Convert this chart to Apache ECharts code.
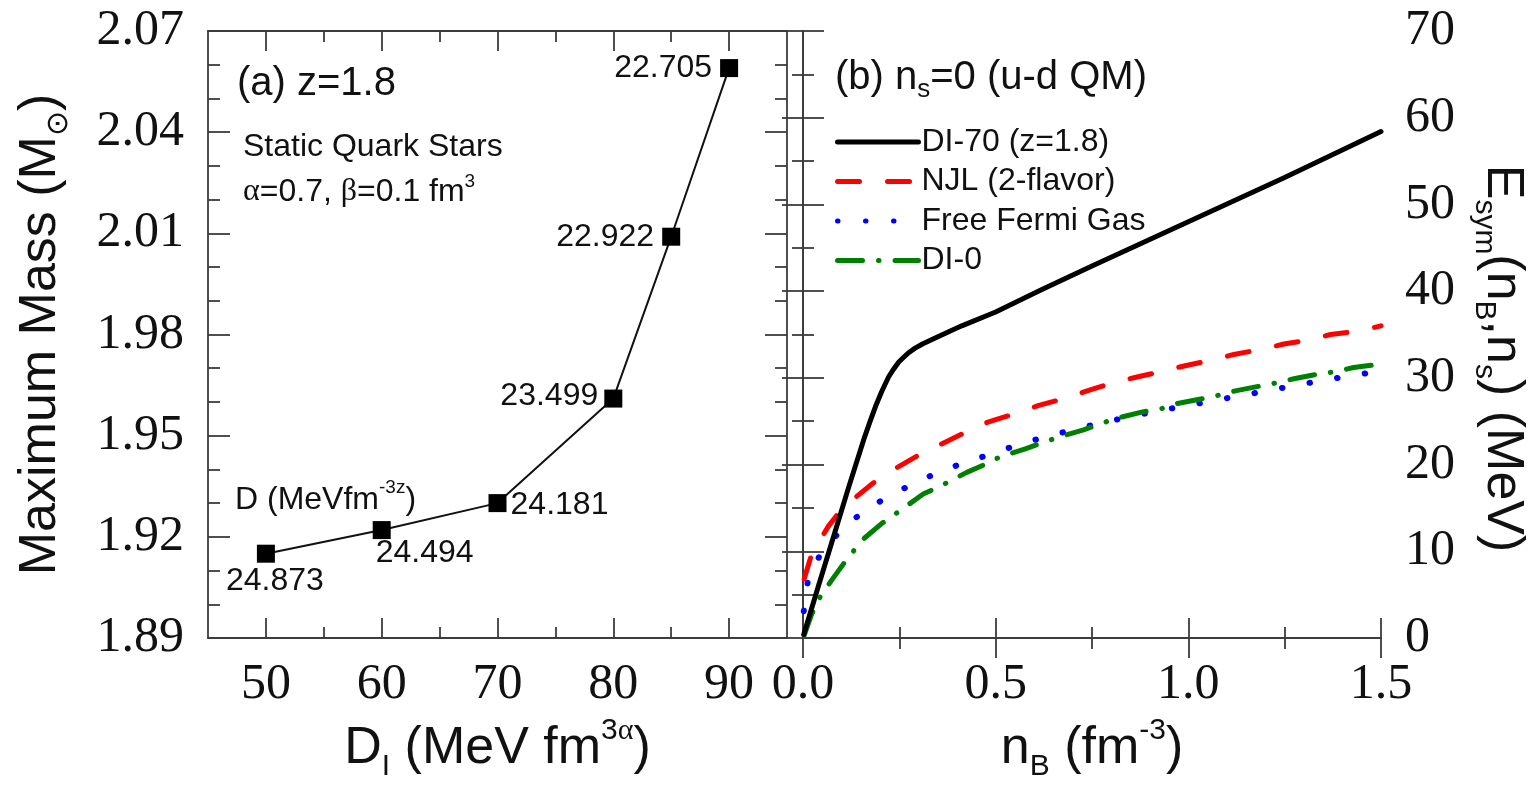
<!DOCTYPE html>
<html>
<head>
<meta charset="utf-8">
<script src="https://cdn.jsdelivr.net/npm/echarts@6/dist/echarts.min.js"></script>
<style>
  html, body { margin: 0; padding: 0; background: #ffffff; }
  #main { width: 1536px; height: 787px; }
</style>
</head>
<body>
<div id="main"></div>
<script>
// ---- Panel (a): maximum mass of static quark stars vs D_I ----
const dI = [50, 60, 70, 80, 85, 90];
const maxMass = [1.915, 1.922, 1.930, 1.961, 2.009, 2.059];
const dValues = ['24.873', '24.494', '24.181', '23.499', '22.922', '22.705'];
const dIMajorTicks = [50, 60, 70, 80, 90];
const dIMinorTicks = [55, 65, 75, 85];

// ---- Panel (b): symmetry energy vs baryon density, [n_B, E_sym] ----
const di70 = [[0.002, 0.4], [0.04, 6.0], [0.08, 11.8], [0.12, 17.6], [0.16, 23.2], [0.175, 25.1],
  [0.19, 26.9], [0.204, 28.4], [0.222, 30.1], [0.235, 31.0], [0.248, 31.8], [0.262, 32.4],
  [0.274, 32.9], [0.29, 33.4], [0.31, 33.9], [0.343, 34.6], [0.412, 36.0], [0.5, 37.6],
  [0.62, 40.2], [0.75, 42.9], [1.0, 48.0], [1.25, 53.1], [1.5, 58.4]];
const njl = [[0.003, 6.8], [0.022, 9.6], [0.066, 12.9], [0.105, 15.1], [0.183, 17.9], [0.23, 19.3],
  [0.308, 21.3], [0.356, 22.3], [0.43, 23.9], [0.48, 24.9], [0.56, 26.0], [0.61, 26.8], [0.685, 27.7],
  [0.737, 28.5], [0.81, 29.5], [0.867, 30.1], [0.936, 30.8], [0.992, 31.4], [1.066, 32.1],
  [1.118, 32.7], [1.191, 33.3], [1.248, 33.9], [1.317, 34.4], [1.369, 35.0], [1.443, 35.4], [1.5, 36.0]];
const freeFermi = [[0.002, 3.1], [0.012, 6.4], [0.044, 9.6], [0.107, 12.9], [0.181, 15.3], [0.255, 17.1],
  [0.325, 18.6], [0.399, 19.9], [0.473, 21.0], [0.546, 22.1], [0.62, 23.1], [0.763, 24.7], [0.91, 26.1],
  [1.057, 27.3], [1.204, 28.5], [1.347, 29.7], [1.5, 30.8]];
const di0 = [[0.003, 0.3], [0.022, 2.7], [0.044, 4.7], [0.075, 6.7], [0.119, 9.4], [0.159, 11.5],
  [0.204, 13.2], [0.265, 15.1], [0.312, 16.6], [0.36, 17.6], [0.425, 19.1], [0.466, 19.9], [0.512, 20.9],
  [0.577, 21.8], [0.62, 22.5], [0.659, 23.1], [0.728, 24.0], [0.81, 25.3], [0.884, 26.1], [0.927, 26.4],
  [0.966, 27.0], [1.036, 27.6], [1.079, 28.0], [1.122, 28.5], [1.191, 29.1], [1.226, 29.4], [1.274, 29.9],
  [1.343, 30.5], [1.382, 30.7], [1.429, 31.2], [1.5, 31.6]];
const seriesNames = ['DI-70 (z=1.8)', 'NJL (2-flavor)', 'Free Fermi Gas', 'DI-0'];

// ---- shared styles ----
const SANS = '"Liberation Sans", Arial, sans-serif';
const SERIF = '"Liberation Serif", "Times New Roman", serif';
const INK = '#111111';
const FRAME = '#3c3c3c';

// label placement relative to each square marker
const labelOffsets = [[9, 27], [43, 23], [62, 2], [-64, -2], [-66, 0], [-66, 0]];

const chart = echarts.init(document.getElementById('main'), null, { renderer: 'canvas' });

const frameLine = { show: true, lineStyle: { color: FRAME, width: 1.8 } };
const majorTick = (len) => ({ show: true, inside: true, length: len, lineStyle: { color: FRAME, width: 1.8 } });
const minorTick = (n, len) => ({ show: true, splitNumber: n, length: len, lineStyle: { color: FRAME, width: 1.8 } });
const tickFont = { fontFamily: SERIF, fontSize: 50, color: INK };

const subRich = (size) => ({ fontFamily: SANS, fontSize: size, lineHeight: size, verticalAlign: 'bottom', color: INK });
const supRich = (size) => ({ fontFamily: SANS, fontSize: size, lineHeight: size, verticalAlign: 'top', color: INK });

const nameRich = {
  m: { fontFamily: SANS, fontSize: 52, lineHeight: 66, color: INK },
  sub: subRich(30),
  sup: supRich(30),
  subSym: { fontFamily: SERIF, fontSize: 30, lineHeight: 30, verticalAlign: 'bottom', color: INK },
  supGreek: { fontFamily: SERIF, fontSize: 30, lineHeight: 30, verticalAlign: 'top', color: INK }
};
const nameStyle = { fontFamily: SANS, fontSize: 52, lineHeight: 66, color: INK, rich: nameRich };

const plainLine = (data, name, color, extra) => Object.assign({
  name: name, type: 'line', xAxisIndex: 4, yAxisIndex: 2,
  data: data, showSymbol: false, symbol: 'none', smooth: false,
  itemStyle: { color: color }
}, extra);

const option = {
  animation: false,
  backgroundColor: '#ffffff',
  grid: [
    { left: 208, top: 31, width: 579, height: 609, show: false },
    { left: 803, top: 31, width: 578, height: 609, show: false }
  ],
  xAxis: [
    // panel (a) bottom: major ticks + labels + name
    {
      type: 'value', gridIndex: 0, position: 'bottom', min: 45, max: 95,
      axisLine: frameLine, axisTick: Object.assign(majorTick(20), { customValues: dIMajorTicks }),
      axisLabel: Object.assign({ margin: 22, customValues: dIMajorTicks }, tickFont),
      splitLine: { show: false },
      name: '{m|D}{sub|I}{m| (MeV fm}{sup|3}{supGreek|α}{m|)}', nameLocation: 'middle', nameGap: 78,
      nameTextStyle: nameStyle
    },
    // panel (a) bottom: minor ticks
    {
      type: 'value', gridIndex: 0, position: 'bottom', min: 45, max: 95,
      axisLine: { show: false }, axisTick: Object.assign(majorTick(11), { customValues: dIMinorTicks }),
      axisLabel: { show: false }, splitLine: { show: false }
    },
    // panel (a) top frame
    {
      type: 'value', gridIndex: 0, position: 'top', min: 45, max: 95,
      axisLine: frameLine, axisTick: Object.assign(majorTick(20), { customValues: dIMajorTicks }),
      axisLabel: { show: false }, splitLine: { show: false }
    },
    {
      type: 'value', gridIndex: 0, position: 'top', min: 45, max: 95,
      axisLine: { show: false }, axisTick: Object.assign(majorTick(11), { customValues: dIMinorTicks }),
      axisLabel: { show: false }, splitLine: { show: false }
    },
    // panel (b) bottom
    {
      type: 'value', gridIndex: 1, position: 'bottom', min: 0, max: 1.5, interval: 0.5,
      axisLine: frameLine, axisTick: majorTick(20), minorTick: minorTick(2, 11),
      axisLabel: Object.assign({ margin: 22, formatter: (v) => v.toFixed(1), showMinLabel: true, showMaxLabel: true }, tickFont),
      splitLine: { show: false }, minorSplitLine: { show: false },
      name: '{m|n}{sub|B}{m| (fm}{sup|-3}{m|)}', nameLocation: 'middle', nameGap: 78,
      nameTextStyle: nameStyle
    },
    // panel (b) top frame
    {
      type: 'value', gridIndex: 1, position: 'top', min: 0, max: 1.5, interval: 0.5,
      axisLine: frameLine, axisTick: majorTick(20), minorTick: minorTick(2, 11),
      axisLabel: { show: false }, splitLine: { show: false }, minorSplitLine: { show: false }
    }
  ],
  yAxis: [
    // panel (a) left
    {
      type: 'value', gridIndex: 0, position: 'left', min: 1.89, max: 2.07, interval: 0.03,
      axisLine: frameLine, axisTick: majorTick(22), minorTick: minorTick(3, 12),
      axisLabel: Object.assign({ margin: 24, formatter: (v) => v.toFixed(2) }, tickFont),
      splitLine: { show: false }, minorSplitLine: { show: false },
      name: '{m|Maximum Mass (M}{subSym|⊙}{m|)}', nameLocation: 'middle', nameGap: 134,
      nameTextStyle: nameStyle
    },
    // panel (a) right frame
    {
      type: 'value', gridIndex: 0, position: 'right', min: 1.89, max: 2.07, interval: 0.03,
      axisLine: frameLine, axisTick: majorTick(22), minorTick: minorTick(3, 12),
      axisLabel: { show: false }, splitLine: { show: false }, minorSplitLine: { show: false }
    },
    // panel (b) right: labels + name
    {
      type: 'value', gridIndex: 1, position: 'right', min: 0, max: 70, interval: 10,
      axisLine: frameLine, axisTick: majorTick(21), minorTick: minorTick(2, 11),
      axisLabel: Object.assign({ margin: 24 }, tickFont),
      splitLine: { show: false }, minorSplitLine: { show: false },
      name: '{m|E}{sub|sym}{m|(n}{sub|B}{m|,n}{sub|s}{m|) (MeV)}', nameLocation: 'middle', nameGap: 88,
      nameRotate: -90,
      nameTextStyle: Object.assign({ padding: [0, 0, 0, 48] }, nameStyle)
    },
    // panel (b) left frame
    {
      type: 'value', gridIndex: 1, position: 'left', min: 0, max: 70, interval: 10,
      axisLine: frameLine, axisTick: majorTick(21), minorTick: minorTick(2, 11),
      axisLabel: { show: false }, splitLine: { show: false }, minorSplitLine: { show: false }
    }
  ],
  legend: {
    left: 835, top: 126, orient: 'vertical', padding: 0,
    itemWidth: 81, itemHeight: 14, itemGap: 7.5,
    data: seriesNames,
    itemStyle: { opacity: 0 },
    lineStyle: { width: 5, cap: 'round' },
    textStyle: { fontFamily: SANS, fontSize: 32, lineHeight: 32, color: INK, padding: [0, 0, 0, -2] }
  },
  series: [
    {
      type: 'line', xAxisIndex: 0, yAxisIndex: 0,
      data: dI.map((x, i) => ({
        value: [x, maxMass[i]],
        label: { show: true, position: 'inside', offset: labelOffsets[i], formatter: dValues[i] }
      })),
      symbol: 'rect', symbolSize: 18,
      itemStyle: { color: '#000000' },
      lineStyle: { color: '#111111', width: 2 },
      label: { fontFamily: SANS, fontSize: 32, color: INK },
      z: 5
    },
    plainLine(di70, seriesNames[0], '#000000', {
      lineStyle: { color: '#000000', width: 5, cap: 'round', join: 'round' }, z: 4
    }),
    plainLine(njl, seriesNames[1], '#ff0000', {
      lineStyle: { color: '#ff0000', width: 5, type: [22, 28], cap: 'round', join: 'round' }, z: 3
    }),
    plainLine(freeFermi, seriesNames[2], '#0000ff', {
      lineStyle: { color: '#0000ff', width: 6, type: [0.5, 27.5], cap: 'round', join: 'round' }, z: 2
    }),
    plainLine(di0, seriesNames[3], '#008000', {
      lineStyle: { color: '#008000', width: 5, type: [25, 16, 0.5, 16], cap: 'round', join: 'round' }, z: 3
    })
  ],
  graphic: [
    {
      type: 'text', left: 237, top: 64,
      style: { text: '(a) z=1.8', font: '40px ' + SANS, fill: INK }
    },
    {
      type: 'text', left: 243, top: 131,
      style: { text: 'Static Quark Stars', font: '32px ' + SANS, fill: INK }
    },
    {
      type: 'text', left: 243, top: 172,
      style: {
        text: '{g|α}{t|=0.7, }{g|β}{t|=0.1 fm}{s|3}',
        rich: {
          g: { fontFamily: SERIF, fontSize: 32, lineHeight: 40, fill: INK },
          t: { fontFamily: SANS, fontSize: 32, lineHeight: 40, fill: INK },
          s: { fontFamily: SANS, fontSize: 19, lineHeight: 19, verticalAlign: 'top', fill: INK }
        }
      }
    },
    {
      type: 'text', left: 235, top: 478,
      style: {
        text: '{t|D (MeVfm}{s|-3z}{t|)}',
        rich: {
          t: { fontFamily: SANS, fontSize: 32, lineHeight: 44, fill: INK },
          s: { fontFamily: SANS, fontSize: 19, lineHeight: 19, verticalAlign: 'top', fill: INK }
        }
      }
    },
    {
      type: 'text', left: 835, top: 58,
      style: {
        text: '{t|(b) n}{s|s}{t|=0 (u-d QM)}',
        rich: {
          t: { fontFamily: SANS, fontSize: 40, lineHeight: 50, fill: INK },
          s: { fontFamily: SANS, fontSize: 26, lineHeight: 26, verticalAlign: 'bottom', fill: INK }
        }
      }
    }
  ]
};

chart.setOption(option);
</script>
</body>
</html>
